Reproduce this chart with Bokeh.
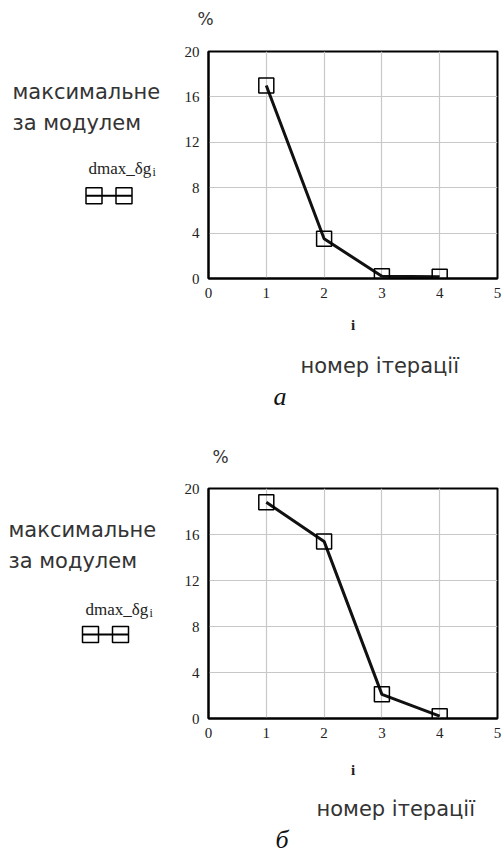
from bokeh.plotting import figure
from bokeh.layouts import column, row
from bokeh.models import Range1d, Label, FixedTicker, Title
from bokeh.embed import file_html
from bokeh.resources import INLINE

# ---- data ----
iterations = [1, 2, 3, 4]
dmax_a = [17.0, 3.5, 0.2, 0.15]
dmax_b = [18.8, 15.4, 2.1, 0.2]
x_ticks = [0, 1, 2, 3, 4, 5]
y_ticks = [0, 4, 8, 12, 16, 20]

y_label_lines = ["максимальне", "за модулем"]
legend_label = "dmax_δg"
legend_sub = "i"
x_name = "i"
x_caption = "номер ітерації"
y_unit = "%"
panel_names = ["а", "б"]

SANS = "DejaVu Sans"
SERIF = "Liberation Serif"
SIDE_W = 178
MAIN_W = 326


def spacer(gap):
    return Title(text=" ", text_font_size="1px", standoff=gap)


def side_fig(h, top, bottom, text_x, text_y, leg_x, leg_y, sym_y, sym_x, half):
    s = figure(width=SIDE_W, height=h, output_backend="svg", toolbar_location=None,
               x_range=Range1d(0, SIDE_W), y_range=Range1d(0, 20),
               min_border_left=0, min_border_right=0,
               min_border_top=top, min_border_bottom=bottom)
    s.axis.visible = False
    s.grid.visible = False
    s.outline_line_color = None
    for txt, yy in zip(y_label_lines, text_y):
        s.add_layout(Label(x=text_x, y=yy, text=txt, text_font=SANS,
                           text_font_size="21px", text_color="#333333",
                           text_baseline="middle", text_align="left"))
    s.add_layout(Label(x=leg_x, y=leg_y, text=legend_label, text_font=SERIF,
                       text_font_size="17px", text_color="#222222",
                       text_baseline="middle", text_align="left"))
    s.add_layout(Label(x=leg_x + 64, y=leg_y - 0.3, text=legend_sub, text_font=SERIF,
                       text_font_size="12px", text_color="#222222",
                       text_baseline="middle", text_align="left"))
    s.line([sym_x[0] - half, sym_x[1] + half], [sym_y, sym_y], line_color="black", line_width=2)
    s.scatter(sym_x, [sym_y, sym_y], marker="square", size=2 * half,
              fill_alpha=0, line_color="black", line_width=1.5)
    return s


def main_fig(h, top, bottom, data, pct_off, cap_off, name_off, name,
             top_gap, i_so, cap_gap, name_so):
    p = figure(width=MAIN_W, height=h, output_backend="svg", toolbar_location=None,
               x_range=Range1d(0, 5), y_range=Range1d(0, 20),
               min_border_left=30, min_border_right=7,
               min_border_top=top, min_border_bottom=bottom)
    p.outline_line_color = "black"
    p.outline_line_width = 2
    p.xaxis.ticker = FixedTicker(ticks=x_ticks)
    p.yaxis.ticker = FixedTicker(ticks=y_ticks)
    for ax in (p.xaxis, p.yaxis):
        ax.major_tick_in = 0
        ax.major_tick_out = 0
        ax.minor_tick_in = 0
        ax.minor_tick_out = 0
        ax.axis_line_color = "black"
        ax.axis_line_width = 2
        ax.major_label_text_font = SERIF
        ax.major_label_text_font_size = "15px"
        ax.major_label_text_color = "#222222"
        ax.major_label_standoff = 9
    p.xaxis.axis_label = x_name
    p.xaxis.axis_label_text_font = SERIF
    p.xaxis.axis_label_text_font_size = "15px"
    p.xaxis.axis_label_text_font_style = "bold"
    p.xaxis.axis_label_text_color = "#222222"
    p.xaxis.axis_label_standoff = i_so
    p.xgrid.grid_line_color = "#c8c8c8"
    p.ygrid.grid_line_color = "#c8c8c8"
    p.xgrid.grid_line_width = 1.2
    p.ygrid.grid_line_width = 1.2
    p.line(iterations, data, line_color="#111111", line_width=3)
    p.scatter(iterations, data, marker="square", size=15, fill_alpha=0,
              line_color="black", line_width=1.5)
    p.add_layout(spacer(top_gap), "above")
    p.add_layout(Title(text=y_unit, align="left", offset=pct_off, text_font=SANS,
                       text_font_size="17px", text_font_style="normal",
                       text_color="#333333", standoff=0), "above")
    p.add_layout(spacer(cap_gap), "below")
    p.add_layout(Title(text=x_caption, align="left", offset=cap_off, text_font=SANS,
                       text_font_size="21px", text_font_style="normal",
                       text_color="#333333", standoff=2), "below")
    p.add_layout(Title(text=name, align="left", offset=name_off, text_font=SERIF,
                       text_font_size="26px", text_font_style="italic",
                       text_color="#111111", standoff=name_so), "below")
    return p


s1 = side_fig(430, 51, 152, 12, [16.4, 13.7], 88, 9.7, 7.3, [93.5, 123.5], 8)
p1 = main_fig(430, 51, 152, dmax_a, -11, 92, 65, panel_names[0], 20, 16, 12, 2)
s2 = side_fig(424, 58, 134, 8, [16.4, 13.7], 85, 9.5, 7.3, [90, 120], 8)
p2 = main_fig(424, 58, 134, dmax_b, 4, 108, 67, panel_names[1], 19, 21, 10, 2)

layout = column(row(s1, p1), row(s2, p2))
open("out.html", "w").write(file_html(layout, INLINE))
